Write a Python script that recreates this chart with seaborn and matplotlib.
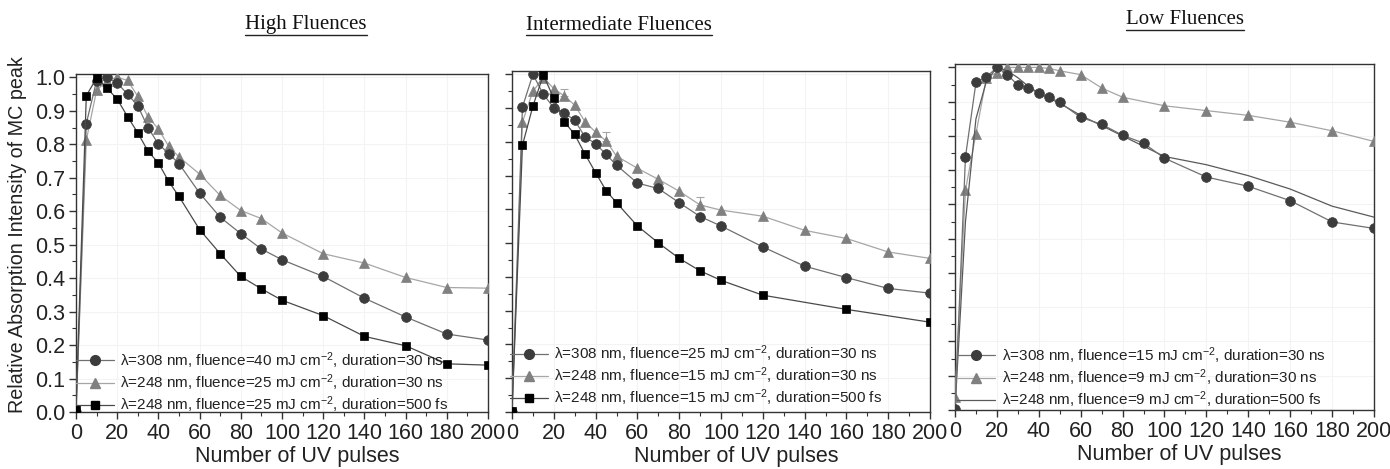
import matplotlib
matplotlib.use("Agg")
import matplotlib.pyplot as plt
import matplotlib.font_manager as fm
from matplotlib.lines import Line2D
import seaborn as sns
import pandas as pd

# ---------------- data ----------------
# Panel 1: High Fluences
x_hi_c = [0, 5, 10, 15, 20, 25, 30, 35, 40, 45, 50, 60, 70, 80, 90, 100, 120, 140, 160, 180, 200]
y_hi_c = [0.0, 0.862, 0.99, 1.0, 0.983, 0.950, 0.915, 0.849, 0.801, 0.772, 0.742, 0.654, 0.582,
          0.533, 0.487, 0.455, 0.405, 0.340, 0.284, 0.233, 0.215]
x_hi_t = [0, 5, 10, 15, 20, 25, 30, 35, 40, 45, 50, 60, 70, 80, 90, 100, 120, 140, 160, 180, 200]
y_hi_t = [0.0, 0.812, 0.961, 0.99, 1.0, 0.991, 0.943, 0.881, 0.846, 0.794, 0.762, 0.711, 0.647,
          0.602, 0.578, 0.535, 0.473, 0.445, 0.402, 0.372, 0.37]
x_hi_s = [0, 5, 10, 15, 20, 25, 30, 35, 40, 45, 50, 60, 70, 80, 90, 100, 120, 140, 160, 180, 200]
y_hi_s = [0.01, 0.945, 0.998, 0.968, 0.935, 0.883, 0.834, 0.779, 0.744, 0.689, 0.644, 0.545, 0.473,
          0.405, 0.368, 0.334, 0.288, 0.226, 0.198, 0.144, 0.14]

# Panel 2: Intermediate Fluences
x_mid_c = [0, 5, 10, 15, 20, 25, 30, 35, 40, 45, 50, 60, 70, 80, 90, 100, 120, 140, 160, 180, 200]
y_mid_c = [0.0, 0.903, 1.0, 0.941, 0.901, 0.886, 0.864, 0.814, 0.795, 0.763, 0.731, 0.678, 0.662,
           0.620, 0.579, 0.551, 0.489, 0.432, 0.398, 0.366, 0.352]
x_mid_t = [0, 5, 10, 15, 20, 25, 30, 35, 40, 45, 50, 60, 70, 80, 90, 100, 120, 140, 160, 180, 200]
y_mid_t = [0.0, 0.859, 0.95, 0.99, 0.958, 0.936, 0.909, 0.859, 0.829, 0.803, 0.758, 0.722, 0.689,
           0.654, 0.613, 0.598, 0.580, 0.538, 0.514, 0.474, 0.455]
x_mid_t_err = [25, 45, 90]
y_mid_t_err = [0.936, 0.803, 0.613]
e_mid_t_err = [0.022, 0.026, 0.025]
x_mid_s = [0, 5, 10, 15, 20, 25, 30, 35, 40, 45, 50, 60, 70, 80, 90, 100, 120, 160, 200]
y_mid_s = [0.003, 0.790, 0.906, 0.998, 0.929, 0.860, 0.822, 0.763, 0.709, 0.656, 0.620, 0.551, 0.501,
           0.455, 0.418, 0.390, 0.346, 0.304, 0.266]

# Panel 3: Low Fluences
x_lo_c = [0, 5, 10, 15, 20, 25, 30, 35, 40, 45, 50, 60, 70, 80, 90, 100, 120, 140, 160, 180, 200]
y_lo_c = [0.004, 0.739, 0.956, 0.972, 1.0, 0.979, 0.948, 0.940, 0.925, 0.913, 0.898, 0.854, 0.834,
          0.802, 0.779, 0.735, 0.680, 0.653, 0.611, 0.549, 0.530]
x_lo_t = [0, 5, 10, 15, 20, 25, 30, 35, 40, 45, 50, 60, 70, 80, 100, 120, 140, 160, 180, 200]
y_lo_t = [0.038, 0.642, 0.806, 0.97, 0.985, 1.0, 1.0, 1.0, 1.0, 0.997, 0.990, 0.979, 0.940, 0.913,
          0.888, 0.874, 0.860, 0.840, 0.815, 0.784]
x_lo_l = [0, 5, 10, 15, 20, 25, 30, 35, 40, 45, 50, 60, 70, 80, 90, 100, 120, 140, 160, 180, 200]
y_lo_l = [0.0, 0.55, 0.85, 0.96, 1.0, 0.99, 0.97, 0.945, 0.925, 0.91, 0.895, 0.86, 0.83, 0.80,
          0.77, 0.74, 0.716, 0.684, 0.645, 0.595, 0.563]

titles = ["High Fluences", "Intermediate Fluences", "Low Fluences"]
leg_hi = [r"λ=308 nm, fluence=40 mJ cm$^{-2}$, duration=30 ns",
          r"λ=248 nm, fluence=25 mJ cm$^{-2}$, duration=30 ns",
          r"λ=248 nm, fluence=25 mJ cm$^{-2}$, duration=500 fs"]
leg_mid = [r"λ=308 nm, fluence=25 mJ cm$^{-2}$, duration=30 ns",
           r"λ=248 nm, fluence=15 mJ cm$^{-2}$, duration=30 ns",
           r"λ=248 nm, fluence=15 mJ cm$^{-2}$, duration=500 fs"]
leg_lo = [r"λ=308 nm, fluence=15 mJ cm$^{-2}$, duration=30 ns",
          r"λ=248 nm, fluence=9 mJ cm$^{-2}$, duration=30 ns",
          r"λ=248 nm, fluence=9 mJ cm$^{-2}$, duration=500 fs"]
xlabel = "Number of UV pulses"
ylabel = "Relative Absorption Intensity of MC peak"

# ---------------- fonts: avoid the condensed "Narrow" variant ----------------
fm.fontManager.ttflist = [f for f in fm.fontManager.ttflist
                          if "narrow" not in f.name.lower() and "narrow" not in f.fname.lower()]
try:
    fm.fontManager._findfont_cached.cache_clear()
except Exception:
    pass

# ---------------- style ----------------
sns.set_theme(style="ticks")
plt.rcParams["font.family"] = ["Liberation Sans", "DejaVu Sans"]
plt.rcParams["font.stretch"] = "normal"
plt.rcParams["mathtext.default"] = "regular"
plt.rcParams["xtick.direction"] = "out"
plt.rcParams["ytick.direction"] = "out"

C_MK = "#3c3c3c"; C_CL = "#707070"
T_MK = "#808080"; T_CL = "#a6a6a6"
S_MK = "#000000"; S_CL = "#4a4a4a"
L_CL = "#5a5a5a"

fig = plt.figure(figsize=(13.9, 4.69), dpi=100)
W, H = 1390, 469
boxes = [(76, 488, 74, 412), (512, 930, 71, 412), (955, 1374, 64, 410)]
axes = []
for (l, r, t, b) in boxes:
    axes.append(fig.add_axes([l / W, (H - b) / H, (r - l) / W, (b - t) / H]))


def series(ax, x, y, mk_color, ln_color, marker, ms, label, z):
    df = pd.DataFrame({"x": x, "y": y})
    sns.lineplot(data=df, x="x", y="y", ax=ax, color=ln_color, lw=0.9, marker=marker,
                 markersize=ms, markerfacecolor=mk_color, markeredgecolor=mk_color,
                 markeredgewidth=0.5, label=label, zorder=z, legend=False)
    return Line2D([], [], color=ln_color, lw=0.9, marker=marker, markersize=ms,
                  markerfacecolor=mk_color, markeredgecolor=mk_color)


def style_axes(ax, show_y, width_px, height_px):
    ax.set_xlim(0, 200)
    ax.set_ylim(0, 1.01)
    ax.set_xticks(range(0, 201, 20))
    ax.set_xticks(range(0, 201, 10), minor=True)
    ax.set_yticks([i / 10 for i in range(11)])
    ax.set_yticks([i / 20 for i in range(21)], minor=True)
    ax.grid(True, which="major", color="#f3f3f3", lw=0.8)
    ax.set_axisbelow(True)
    for s in ax.spines.values():
        s.set_color("#333333")
        s.set_linewidth(1.0)
    ax.tick_params(axis="both", which="major", length=5, width=1, labelsize=15.5,
                   color="#333333", labelcolor="#222222", pad=3)
    ax.tick_params(axis="both", which="minor", length=3, width=0.8, color="#333333")
    ax.set_xlabel(xlabel, fontsize=15.5, color="#222222", labelpad=2)
    ax.xaxis.set_label_coords(0.5 + 15.0 / width_px, -34.0 / height_px)
    if show_y:
        ax.set_yticklabels([f"{v/10:.1f}" for v in range(11)])
        ax.set_ylabel(ylabel, fontsize=14.2, color="#222222", labelpad=4)
        ax.yaxis.set_label_coords(-49.0 / width_px, 0.524)
    else:
        ax.set_yticklabels([])
        ax.set_ylabel("")


def add_legend(ax, handles, labels, dx, dy):
    ax.legend(handles, labels, loc="lower left", bbox_to_anchor=(dx, dy), frameon=False,
              fontsize=11, handlelength=2.5, handletextpad=0.4, labelspacing=0.1,
              borderpad=0.2, borderaxespad=0.0, labelcolor="#222222")


# Panel 1
ax = axes[0]
h_t = series(ax, x_hi_t, y_hi_t, T_MK, T_CL, "^", 7, leg_hi[1], 3)
h_c = series(ax, x_hi_c, y_hi_c, C_MK, C_CL, "o", 7, leg_hi[0], 4)
h_s = series(ax, x_hi_s, y_hi_s, S_MK, S_CL, "s", 6, leg_hi[2], 5)
style_axes(ax, True, 412, 338)
add_legend(ax, [h_c, h_t, h_s], leg_hi, -0.007, -0.018)

# Panel 2
ax = axes[1]
h_t = series(ax, x_mid_t, y_mid_t, T_MK, T_CL, "^", 7, leg_mid[1], 3)
ax.errorbar(x_mid_t_err, y_mid_t_err, yerr=[[0] * len(e_mid_t_err), e_mid_t_err], fmt="none",
            ecolor=T_CL, elinewidth=0.8, capsize=3, capthick=0.8, zorder=2)
h_c = series(ax, x_mid_c, y_mid_c, C_MK, C_CL, "o", 7, leg_mid[0], 4)
h_s = series(ax, x_mid_s, y_mid_s, S_MK, S_CL, "s", 6, leg_mid[2], 5)
style_axes(ax, False, 418, 341)
add_legend(ax, [h_c, h_t, h_s], leg_mid, -0.012, 0.002)

# Panel 3
ax = axes[2]
h_t = series(ax, x_lo_t, y_lo_t, T_MK, T_CL, "^", 7, leg_lo[1], 3)
df_l = pd.DataFrame({"x": x_lo_l, "y": y_lo_l})
sns.lineplot(data=df_l, x="x", y="y", ax=ax, color=L_CL, lw=0.9, zorder=4, legend=False)
h_l = Line2D([], [], color=L_CL, lw=0.9)
h_c = series(ax, x_lo_c, y_lo_c, C_MK, C_CL, "o", 7, leg_lo[0], 5)
style_axes(ax, False, 419, 346)
add_legend(ax, [h_c, h_t, h_l], leg_lo, -0.002, -0.009)

# Titles (underlined, serif)
title_pos = [(306, 25), (619, 25), (1185, 20)]
tobjs = []
for (px, py), txt in zip(title_pos, titles):
    tobjs.append(fig.text(px / W, 1 - py / H, txt, ha="center", va="center", fontsize=15,
                          family="Liberation Serif", color="#111111"))
fig.canvas.draw()
renderer = fig.canvas.get_renderer()
for t in tobjs:
    bb = t.get_window_extent(renderer)
    yline = (bb.y0 - 1) / H
    fig.add_artist(Line2D([bb.x0 / W, bb.x1 / W], [yline, yline], color="#222222", lw=1.0))

fig.savefig("out.png", dpi=100)
